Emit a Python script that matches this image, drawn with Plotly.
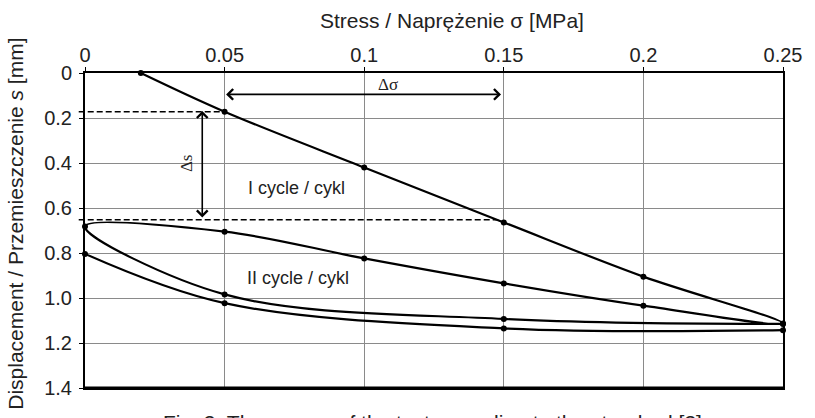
import plotly.graph_objects as go

# ---- data ----
# cycle I loading + unloading, continuing into cycle II loading
path1_x = [0.02, 0.05, 0.10, 0.15, 0.20, 0.25, 0.20, 0.15, 0.10, 0.05, 0.00, 0.05, 0.15, 0.25]
path1_y = [0.00, 0.172, 0.42, 0.664, 0.905, 1.113, 1.034, 0.935, 0.824, 0.705, 0.682, 0.984, 1.093, 1.115]

# cycle II unloading
path2_x = [0.25, 0.15, 0.05, 0.00]
path2_y = [1.143, 1.135, 1.023, 0.804]

x_ticks = [0, 0.05, 0.10, 0.15, 0.20, 0.25]
x_ticktext = ["0", "0.05", "0.1", "0.15", "0.2", "0.25"]
y_ticks = [0, 0.2, 0.4, 0.6, 0.8, 1.0, 1.2, 1.4]
y_ticktext = ["0", "0.2", "0.4", "0.6", "0.8", "1.0", "1.2", "1.4"]

# annotation values (data units)
ds_top, ds_bottom, ds_x = 0.172, 0.652, 0.042
dsig_left, dsig_right, dsig_y = 0.05, 0.149, 0.095

X_MAX, Y_MAX = 0.25, 1.4
FONT = "Liberation Sans, Arial, sans-serif"
SERIF = "Liberation Serif, Times New Roman, serif"

def px(xv):  # data x -> paper
    return xv / X_MAX

def py(yv):  # data y -> paper (reversed axis)
    return 1 - yv / Y_MAX

fig = go.Figure()

for xs, ys in [(path1_x, path1_y), (path2_x, path2_y)]:
    fig.add_trace(go.Scatter(
        x=xs, y=ys, mode="lines+markers",
        line=dict(color="black", width=2.2, shape="spline", smoothing=1.0),
        marker=dict(color="black", size=6),
        cliponaxis=False, showlegend=False, hoverinfo="skip"))

shapes = [
    # dashed guides
    dict(type="line", xref="paper", yref="paper",
         x0=-0.009, x1=px(dsig_left), y0=py(ds_top), y1=py(ds_top),
         line=dict(color="black", width=1.5, dash="6px,3px")),
    dict(type="line", xref="paper", yref="paper",
         x0=-0.009, x1=px(0.148), y0=py(ds_bottom), y1=py(ds_bottom),
         line=dict(color="black", width=1.5, dash="6px,3px")),
    # thicker bottom border
    dict(type="line", xref="paper", yref="paper", x0=0, x1=1, y0=0, y1=0,
         line=dict(color="black", width=3)),
]

annotations = [
    # delta s double arrow
    dict(x=ds_x, y=ds_bottom - 0.01, ax=ds_x, ay=ds_top - 0.01, xref="x", yref="y",
         axref="x", ayref="y", text="", showarrow=True, arrowside="end+start",
         arrowhead=4, startarrowhead=4, arrowsize=1.3, startarrowsize=1.3,
         arrowwidth=1.6, arrowcolor="black", standoff=0, startstandoff=0),
    # delta sigma double arrow
    dict(x=dsig_right, y=dsig_y, ax=dsig_left, ay=dsig_y, xref="x", yref="y",
         axref="x", ayref="y", text="", showarrow=True, arrowside="end+start",
         arrowhead=4, startarrowhead=4, arrowsize=1.3, startarrowsize=1.3,
         arrowwidth=1.6, arrowcolor="black", standoff=0, startstandoff=0),
    dict(x=0.1085, y=0.053, xref="x", yref="y", text="Δσ", showarrow=False,
         font=dict(family=SERIF, size=17, color="#222")),
    dict(x=0.0362, y=0.40, xref="x", yref="y", text="Δs", showarrow=False,
         textangle=-90, font=dict(family=SERIF, size=17, color="#222")),
    dict(x=0.0756, y=0.511, xref="x", yref="y", text="I cycle / cykl",
         showarrow=False, font=dict(family=FONT, size=18, color="#222")),
    dict(x=0.0762, y=0.911, xref="x", yref="y", text="II cycle / cykl",
         showarrow=False, font=dict(family=FONT, size=18, color="#222")),
    # axis titles
    dict(x=0.526, y=1.166, xref="paper", yref="paper", xanchor="center",
         yanchor="middle", text="Stress / Naprężenie σ [MPa]", showarrow=False,
         font=dict(family=FONT, size=21, color="#222")),
    dict(x=-0.099, y=0.521, xref="paper", yref="paper", xanchor="center",
         yanchor="middle",
         text="Displacement / Przemieszczenie <i>s</i> [mm]", showarrow=False,
         textangle=-90, font=dict(family=FONT, size=21, color="#222")),
    # caption (partly cut by the frame)
    dict(x=0.498, y=-0.109, xref="paper", yref="paper", xanchor="center",
         text="Fig. 3. The course of the test according to the standard [3]",
         showarrow=False, yanchor="middle",
         font=dict(family=FONT, size=21, color="#222")),
]

axis_common = dict(
    showgrid=True, gridcolor="#8a8a8a", gridwidth=1,
    showline=True, linecolor="black", linewidth=2, mirror=True,
    ticks="outside", ticklen=4, tickcolor="black", tickwidth=1,
    zeroline=False, tickfont=dict(family=FONT, size=20, color="#222"),
)

fig.update_layout(
    width=815, height=418,
    margin=dict(l=85, r=32, t=73, b=30),
    paper_bgcolor="white", plot_bgcolor="white",
    xaxis=dict(range=[0, X_MAX], side="top", tickmode="array",
               tickvals=x_ticks, ticktext=x_ticktext, ticklabelstandoff=-3,
               **axis_common),
    yaxis=dict(range=[Y_MAX, 0], tickmode="array",
               tickvals=y_ticks, ticktext=y_ticktext, ticklabelstandoff=3,
               **axis_common),
    shapes=shapes, annotations=annotations,
)

fig.write_html("out.html", config={"displayModeBar": False},
               post_script="document.body.style.margin='0';")
